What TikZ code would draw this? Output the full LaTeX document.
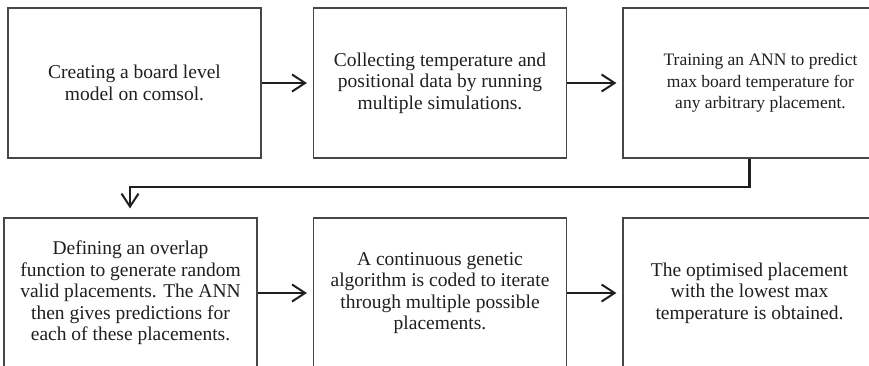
\documentclass[tikz,border=0pt]{standalone}
\usepackage{fontspec}
\setmainfont{Liberation Serif}
\usetikzlibrary{arrows.meta}
\tikzset{
  stagebox/.style={draw=black!72, line width=1.2pt, minimum width=253pt, minimum height=150pt, inner sep=0pt, fill=white},
  stagetext/.style={align=center, text=black!88, font=\fontsize{19.5}{21.5}\selectfont, inner sep=0pt},
  flow/.style={draw=black!88, line width=2.2pt, -{Straight Barb[length=13pt,width=17pt,line width=2pt]}},
}
\begin{document}
\begin{tikzpicture}[x=1pt, y={(0pt,-1pt)}]
\useasboundingbox (0,0) rectangle (869,365);
\clip (0,0) rectangle (869,365);
\fill[white] (0,0) rectangle (869,365);
% top row
\node[stagebox] (b1) at (134.5,83) {};
\node[stagetext] (t1) at (b1.center) {Creating a board level\\model on comsol.};
\node[stagebox] (b2) at (440,83) {};
\node[stagetext] (t2) at (b2.center) {Collecting temperature and\\positional data by running\\multiple simulations.};
\node[stagebox] (b3) at (749.5,83) {};
\node[stagetext, font=\fontsize{17.5}{21.3}\selectfont] (t3) at ([xshift=11pt]b3.center) {Training an ANN to predict\\max board temperature for\\any arbitrary placement.};
% bottom row
\node[stagebox] (b4) at (130.5,293) {};
\node[stagetext] (t4) at (b4.center) {Defining an overlap\\function to generate random\\valid placements. The ANN\\then gives predictions for\\each of these placements.};
\node[stagebox] (b5) at (440,293) {};
\node[stagetext] (t5) at (b5.center) {A continuous genetic\\algorithm is coded to iterate\\through multiple possible\\placements.};
\node[stagebox] (b6) at (749.5,293) {};
\node[stagetext] (t6) at (b6.center) {The optimised placement\\with the lowest max\\temperature is obtained.};
% connectors
\coordinate (c1) at (749.5,187);
\coordinate (c2) at (130,187);
\draw[flow, shorten >=6pt] (b1.east) -- (b2.west);
\draw[flow, shorten >=6pt] (b2.east) -- (b3.west);
\draw[flow, shorten >=9pt] (b3.south) -- (c1) -- (c2) -- (c2 |- b4.north);
\draw[flow, shorten >=6pt] (b4.east) -- (b5.west);
\draw[flow, shorten >=6pt] (b5.east) -- (b6.west);
\end{tikzpicture}
\end{document}
